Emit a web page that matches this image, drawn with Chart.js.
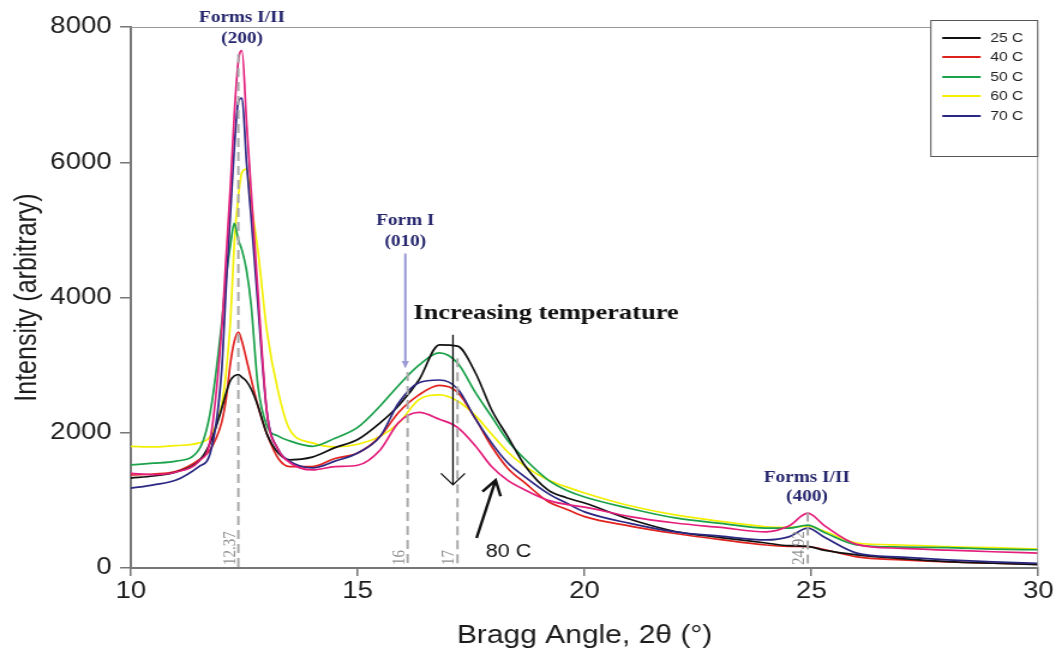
<!DOCTYPE html>
<html>
<head>
<meta charset="utf-8">
<script src="https://cdn.jsdelivr.net/npm/chart.js@4"></script>
<style>
  html, body { margin: 0; padding: 0; background: #fff; overflow: hidden; }
  /* the reference is drawn slightly wide, so the chart is stretched sideways */
  #wrap { width: 880px; height: 656px; transform: scaleX(1.2); transform-origin: 0 0; }
</style>
</head>
<body>
<div id="wrap"><canvas id="chart"></canvas></div>
<script>
// Bragg angles (2 theta) where intensities were read
const angles = [10, 10.5, 11, 11.5, 11.75, 12, 12.1, 12.2, 12.28, 12.37, 12.45, 12.55, 12.65, 12.8, 13, 13.25, 13.5,
  14, 14.5, 15, 15.5, 15.9, 16.35, 16.8, 17.2, 17.6, 17.95, 18.3, 18.7, 19.2, 19.6, 20,
  21, 22, 23, 24, 24.5, 24.92, 25.3, 26, 27, 28, 29, 30];

// Intensity per temperature
const t25 = [1330, 1360, 1420, 1580, 1850, 2350, 2590, 2780, 2840, 2860, 2820, 2760, 2650, 2400, 1980, 1700, 1600,
  1640, 1780, 1900, 2150, 2400, 2780, 3300, 3280, 2880, 2340, 1950, 1500, 1150, 1040, 960,
  720, 540, 450, 370, 330, 320, 260, 195, 140, 95, 70, 50];
const t40 = [1375, 1390, 1430, 1600, 1750, 2150, 2500, 3050, 3350, 3490, 3350, 3080, 2800, 2400, 1980, 1620, 1500,
  1500, 1620, 1700, 1950, 2300, 2560, 2700, 2600, 2200, 1800, 1480, 1250, 980, 870, 760,
  620, 510, 420, 340, 320, 315, 270, 165, 120, 90, 70, 55];
const t50 = [1525, 1550, 1580, 1750, 2300, 3600, 4300, 4800, 5100, 4850, 4700, 4400, 3900, 2700, 2100, 1950, 1880,
  1800, 1920, 2080, 2400, 2700, 3000, 3180, 3030, 2590, 2240, 1890, 1600, 1300, 1150, 1050,
  880, 740, 660, 590, 590, 635, 520, 340, 310, 300, 280, 270];
const t60 = [1800, 1790, 1810, 1850, 1950, 2400, 2900, 3700, 4800, 5500, 5850, 5900, 5400, 4700, 3500, 2600, 2050,
  1850, 1790, 1830, 1950, 2140, 2490, 2560, 2470, 2250, 1980, 1720, 1500, 1300, 1200, 1110,
  920, 785, 690, 610, 600, 620, 540, 370, 340, 315, 300, 280];
const t70 = [1180, 1230, 1300, 1500, 1700, 2900, 4160, 5300, 6200, 6900, 6950, 6000, 5200, 3900, 2300, 1750, 1580,
  1480, 1580, 1700, 1950, 2440, 2740, 2780, 2650, 2200, 1850, 1560, 1340, 1100, 960, 830,
  660, 535, 470, 415, 460, 590, 450, 220, 160, 120, 90, 70];
const t80 = [1400, 1380, 1420, 1580, 1900, 3500, 4600, 5700, 6700, 7500, 7650, 6600, 5600, 4100, 2300, 1750, 1560,
  1450, 1500, 1520, 1750, 2150, 2300, 2200, 2080, 1800, 1500, 1300, 1150, 1000, 940, 900,
  760, 665, 600, 535, 620, 810, 620, 350, 290, 265, 240, 220];

const seriesNames = ["25 C", "40 C", "50 C", "60 C", "70 C", "80 C"];
const seriesData = [t25, t40, t50, t60, t70, t80];
const seriesColors = ["#111111", "#e0221e", "#1aa14a", "#f2ef00", "#2b2883", "#e41e7c"];
const drawOrder = [2, 4, 3, 5, 1, 0];
const legendCount = 5; // 80 C is labelled with an arrow instead

const xTicks = [10, 15, 20, 25, 30];
const yTicks = [0, 2000, 4000, 6000, 8000];

// peak markers: dashed line, top of the line, label
const peakMarks = [
  { at: 12.37, top: 7600, text: "12.37" },
  { at: 16.1, top: 2900, text: "16" },
  { at: 17.2, top: 3100, text: "17" },
  { at: 24.92, top: 820, text: "24.92" }
];

const sans = '"Liberation Sans", Arial, sans-serif';
const serif = '"Liberation Serif", "Times New Roman", serif';

// Annotations, legend and frame
const annotate = {
  id: "annotate",
  afterDatasetsDraw(chart) {
    const { ctx, chartArea, scales: { x, y } } = chart;
    const X = v => x.getPixelForValue(v);
    const Y = v => y.getPixelForValue(v);
    ctx.save();

    // top and right frame
    ctx.strokeStyle = "#9a9a9a";
    ctx.lineWidth = 1;
    ctx.beginPath();
    ctx.moveTo(chartArea.left, chartArea.top + 0.5);
    ctx.lineTo(chartArea.right - 0.5, chartArea.top + 0.5);
    ctx.lineTo(chartArea.right - 0.5, chartArea.bottom);
    ctx.stroke();

    // dashed peak lines
    ctx.setLineDash([9, 5]);
    ctx.strokeStyle = "#a9a9a9";
    ctx.lineWidth = 2;
    peakMarks.forEach(m => {
      ctx.beginPath();
      ctx.moveTo(X(m.at), Y(m.top));
      ctx.lineTo(X(m.at), Y(0));
      ctx.stroke();
    });
    ctx.setLineDash([]);

    // rotated peak labels
    ctx.fillStyle = "#8e8e8e";
    ctx.font = "15px " + serif;
    ctx.textAlign = "left";
    ctx.textBaseline = "middle";
    peakMarks.forEach(m => {
      ctx.save();
      ctx.translate(X(m.at) - 7, Y(0) - 3);
      ctx.rotate(-Math.PI / 2);
      ctx.fillText(m.text, 0, 0);
      ctx.restore();
    });

    // peak names
    ctx.fillStyle = "#26266e";
    ctx.textAlign = "center";
    ctx.font = "bold 16px " + serif;
    ctx.fillText("Forms I/II", X(12.45), Y(8140));
    ctx.fillText("(200)", X(12.45), Y(7830));
    ctx.fillText("Form I", X(16.05), Y(5130));
    ctx.fillText("(010)", X(16.05), Y(4830));
    ctx.fillText("Forms I/II", X(24.9), Y(1330));
    ctx.fillText("(400)", X(24.9), Y(1050));

    // Form I arrow
    ctx.strokeStyle = "#9a9ad6";
    ctx.fillStyle = "#9a9ad6";
    ctx.lineWidth = 2;
    ctx.beginPath();
    ctx.moveTo(X(16.05), Y(4650));
    ctx.lineTo(X(16.05), Y(3000));
    ctx.stroke();
    ctx.beginPath();
    ctx.moveTo(X(16.05) - 3, Y(3060));
    ctx.lineTo(X(16.05) + 3, Y(3060));
    ctx.lineTo(X(16.05), Y(2950));
    ctx.closePath();
    ctx.fill();

    // Increasing temperature
    ctx.fillStyle = "#111";
    ctx.textAlign = "left";
    ctx.font = "bold 22px " + serif;
    ctx.fillText("Increasing temperature", X(16.23), Y(3770));

    ctx.strokeStyle = "#111";
    ctx.lineWidth = 1.3;
    ctx.beginPath();
    ctx.moveTo(X(17.1), Y(3450));
    ctx.lineTo(X(17.1), Y(1230));
    ctx.moveTo(X(17.1) - 10, Y(1400));
    ctx.lineTo(X(17.1), Y(1230));
    ctx.lineTo(X(17.1) + 10, Y(1400));
    ctx.stroke();

    // 80 C arrow and label
    ctx.lineWidth = 2.4;
    ctx.beginPath();
    ctx.moveTo(X(17.62), Y(444));
    ctx.lineTo(X(18.04), Y(1300));
    ctx.moveTo(X(17.75), Y(1130));
    ctx.lineTo(X(18.04), Y(1300));
    ctx.lineTo(X(18.15), Y(1060));
    ctx.stroke();
    ctx.font = "18px " + sans;
    ctx.fillText("80 C", X(17.82), Y(237));

    // legend
    const lx = chartArea.right - 90, ly = 20, lw = 90, lh = 137;
    ctx.fillStyle = "#fff";
    ctx.fillRect(lx, ly, lw, lh);
    ctx.strokeStyle = "#555";
    ctx.lineWidth = 1;
    ctx.strokeRect(lx + 0.5, ly + 0.5, lw - 1, lh - 1);
    ctx.font = "13px " + sans;
    ctx.textBaseline = "middle";
    const rows = [38, 57, 77, 96, 116];
    for (let i = 0; i < legendCount; i++) {
      ctx.strokeStyle = seriesColors[i];
      ctx.lineWidth = 2;
      ctx.beginPath();
      ctx.moveTo(lx + 10, rows[i]);
      ctx.lineTo(lx + 42, rows[i]);
      ctx.stroke();
      ctx.fillStyle = "#222";
      ctx.fillText(seriesNames[i], lx + 50, rows[i]);
    }
    ctx.restore();
  }
};

new Chart(document.getElementById("chart"), {
  type: "line",
  data: {
    datasets: seriesNames.map((name, i) => ({
      label: name,
      data: angles.map((a, j) => ({ x: a, y: seriesData[i][j] })),
      borderColor: seriesColors[i],
      borderWidth: 1.7,
      pointRadius: 0,
      cubicInterpolationMode: "monotone",
      order: drawOrder[i]
    }))
  },
  options: {
    responsive: true,
    maintainAspectRatio: false,
    animation: false,
    layout: { padding: { top: 27, right: 11, left: 0, bottom: 0 } },
    plugins: {
      legend: { display: false },
      tooltip: { enabled: false }
    },
    scales: {
      x: {
        type: "linear",
        min: 10,
        max: 30,
        afterBuildTicks: s => { s.ticks = xTicks.map(v => ({ value: v })); },
        afterFit: s => { s.height = 88; },
        ticks: { font: { family: sans, size: 23 }, color: "#1c1c1c", padding: 2, maxRotation: 0, callback: v => String(v) },
        grid: { drawOnChartArea: false, tickLength: 8, color: "#777", lineWidth: 1.5 },
        border: { color: "#777", width: 2 },
        title: {
          display: true,
          text: "Bragg Angle, 2θ (°)",
          font: { family: sans, size: 25 },
          color: "#1c1c1c",
          padding: { top: 0, bottom: 5 }
        }
      },
      y: {
        min: 0,
        max: 8000,
        afterBuildTicks: s => { s.ticks = yTicks.map(v => ({ value: v })); },
        afterFit: s => { s.width = 109; },
        ticks: { font: { family: sans, size: 23 }, color: "#1c1c1c", padding: 7, callback: v => String(v) },
        grid: { drawOnChartArea: false, tickLength: 9, color: "#777", lineWidth: 1.5 },
        border: { color: "#777", width: 2 },
        title: {
          display: true,
          text: "Intensity (arbitrary)",
          font: { family: sans, size: 25 },
          color: "#1c1c1c",
          padding: { top: 8, bottom: 0 }
        }
      }
    }
  },
  plugins: [annotate]
});
</script>
</body>
</html>
